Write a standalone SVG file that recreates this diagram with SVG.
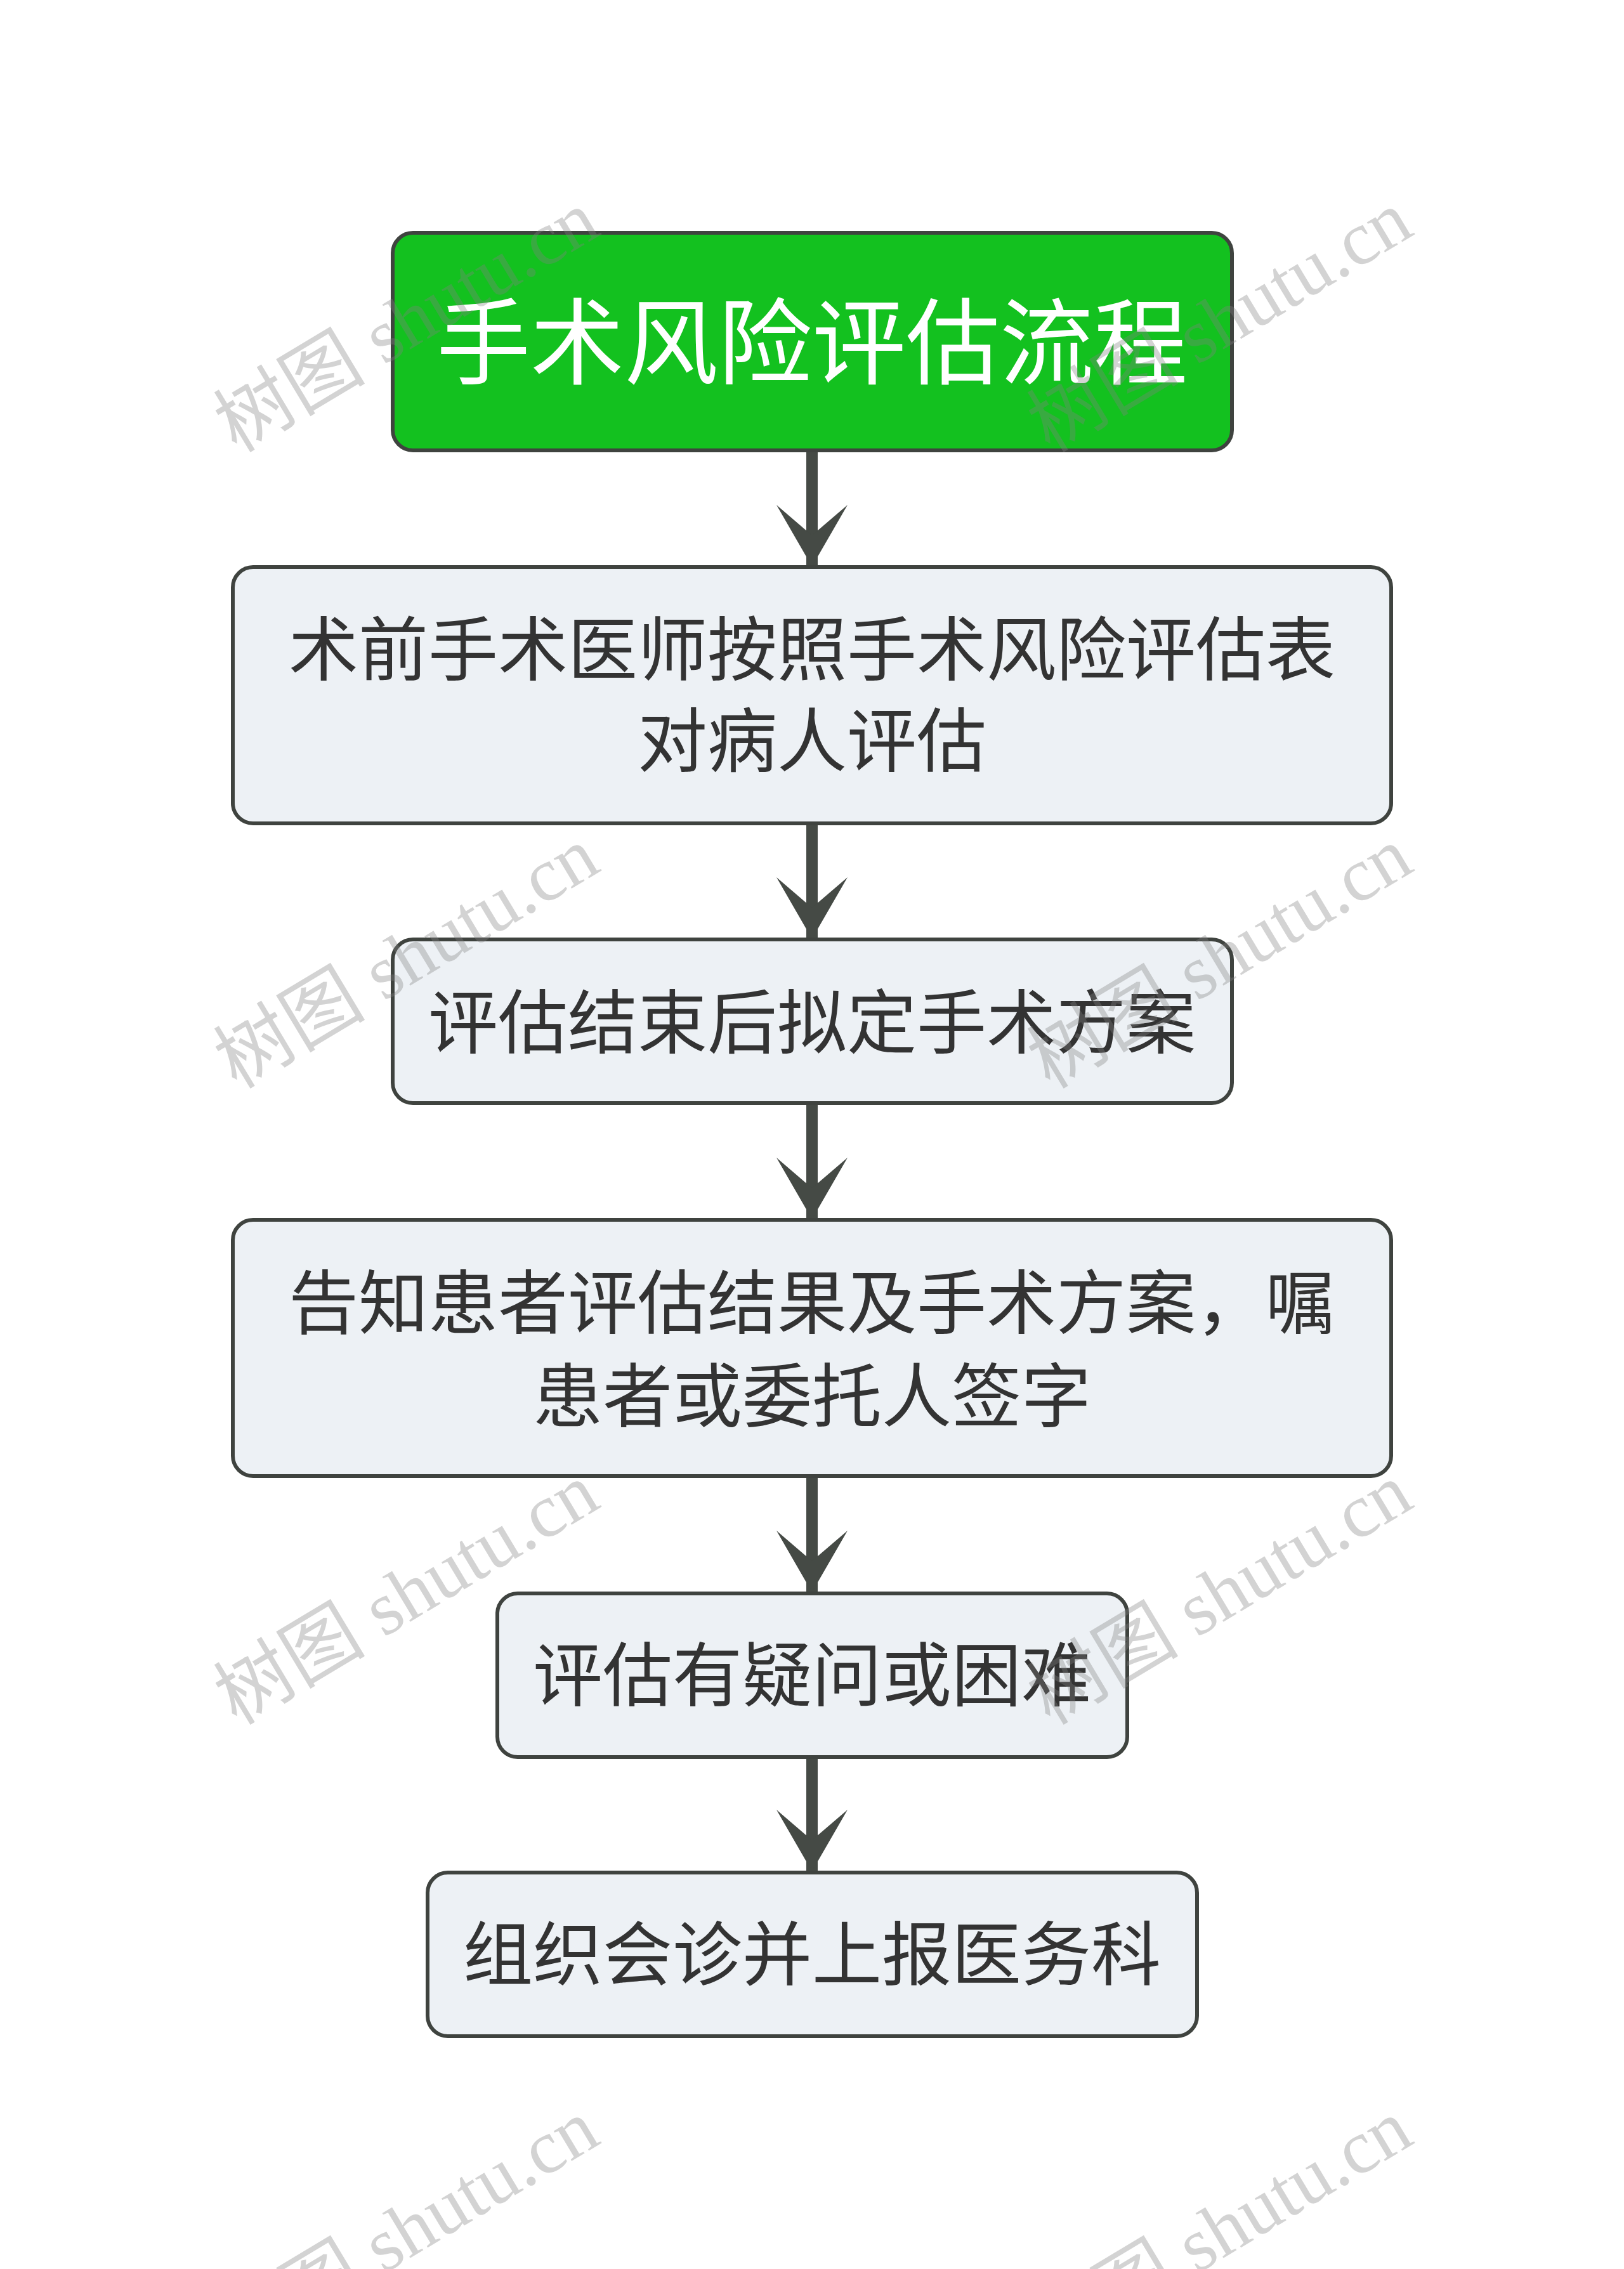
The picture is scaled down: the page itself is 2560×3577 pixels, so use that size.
<svg xmlns="http://www.w3.org/2000/svg" width="2560" height="3577" viewBox="0 0 2560 3577">
<style>
.box{fill:#edf1f5;stroke:#3f433f;stroke-width:6}
.title{fill:#13c11f;stroke:#3f433f;stroke-width:6}
.t{font-family:"Noto Sans CJK SC","Noto Sans",sans-serif;font-size:110px;fill:#333333;text-anchor:middle}
.tt{font-family:"Noto Sans CJK SC","Noto Sans",sans-serif;font-size:148px;fill:#ffffff;text-anchor:middle}
.edge{stroke:#454a45;stroke-width:18;fill:none}
.wm{font-family:"Liberation Serif","Noto Sans CJK SC",serif;font-size:120px;fill:#808080;fill-opacity:0.35}
</style>
<defs>
<marker id="arr" markerUnits="userSpaceOnUse" viewBox="0 0 100 112" refX="97" refY="56" markerWidth="100" markerHeight="112" orient="auto">
<path d="M0,0 L97,56 L0,112 L48,56 Z" fill="#454a45"/>
</marker>
</defs>
<rect width="2560" height="3577" fill="#ffffff"/>
<g id="edges">
<line class="edge" x1="1280" y1="712" x2="1280" y2="893" marker-end="url(#arr)"/>
<line class="edge" x1="1280" y1="1300" x2="1280" y2="1480" marker-end="url(#arr)"/>
<line class="edge" x1="1280" y1="1741" x2="1280" y2="1922" marker-end="url(#arr)"/>
<line class="edge" x1="1280" y1="2329" x2="1280" y2="2510" marker-end="url(#arr)"/>
<line class="edge" x1="1280" y1="2771" x2="1280" y2="2950" marker-end="url(#arr)"/>
</g>
<g id="n1">
<rect class="title" x="619" y="367" width="1323" height="343" rx="32"/>
<text class="tt" x="1280" y="594">手术风险评估流程</text>
</g>
<g id="n2">
<rect class="box" x="367" y="894" width="1826" height="404" rx="32"/>
<text class="t" x="1280" y="1064">术前手术医师按照手术风险评估表</text>
<text class="t" x="1280" y="1208">对病人评估</text>
</g>
<g id="n3">
<rect class="box" x="619" y="1481" width="1323" height="258" rx="32"/>
<text class="t" x="1280" y="1652">评估结束后拟定手术方案</text>
</g>
<g id="n4">
<rect class="box" x="367" y="1923" width="1826" height="404" rx="32"/>
<text class="t" x="1280" y="2094">告知患者评估结果及手术方案，嘱</text>
<text class="t" x="1280" y="2241">患者或委托人签字</text>
</g>
<g id="n5">
<rect class="box" x="784" y="2512" width="993" height="258" rx="32"/>
<text class="t" x="1280" y="2681">评估有疑问或困难</text>
</g>
<g id="n6">
<rect class="box" x="674" y="2952" width="1213" height="258" rx="32"/>
<text class="t" x="1280" y="3121">组织会诊并上报医务科</text>
</g>
<g id="watermarks">
<text class="wm" x="373" y="715" transform="rotate(-31 373 715)">树图 shutu.cn</text>
<text class="wm" x="1655" y="715" transform="rotate(-31 1655 715)">树图 shutu.cn</text>
<text class="wm" x="373" y="1718" transform="rotate(-31 373 1718)">树图 shutu.cn</text>
<text class="wm" x="1655" y="1718" transform="rotate(-31 1655 1718)">树图 shutu.cn</text>
<text class="wm" x="373" y="2721" transform="rotate(-31 373 2721)">树图 shutu.cn</text>
<text class="wm" x="1655" y="2721" transform="rotate(-31 1655 2721)">树图 shutu.cn</text>
<text class="wm" x="373" y="3724" transform="rotate(-31 373 3724)">树图 shutu.cn</text>
<text class="wm" x="1655" y="3724" transform="rotate(-31 1655 3724)">树图 shutu.cn</text>
</g>
</svg>
